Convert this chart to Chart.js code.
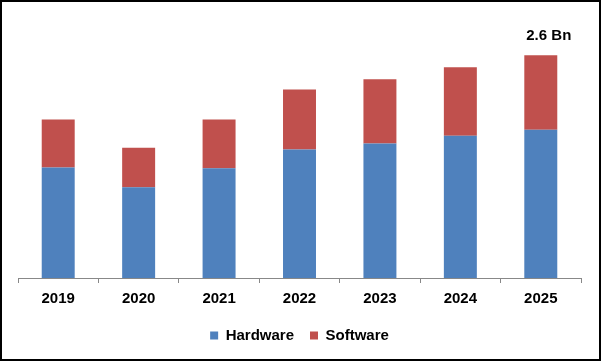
<!DOCTYPE html>
<html>
<head>
<meta charset="utf-8">
<script src="https://cdn.jsdelivr.net/npm/chart.js@4.4.1/dist/chart.umd.min.js"></script>
<style>
  html, body { margin: 0; padding: 0; background: #fff; }
  #wrap { position: relative; width: 601px; height: 361px; }
  #frame {
    position: absolute; left: 0; top: 0; width: 601px; height: 361px;
    box-sizing: border-box; border: 2px solid #000; pointer-events: none;
  }
</style>
</head>
<body>
<div id="wrap">
  <canvas id="marketChart" width="601" height="361"></canvas>
  <div id="frame"></div>
</div>
<script>
// =============================
// DATA (USD Bn)
// =============================
const years = ["2019", "2020", "2021", "2022", "2023", "2024", "2025"];
const hardware = [1.29, 1.06, 1.28, 1.50, 1.57, 1.66, 1.73];
const software = [0.56, 0.46, 0.57, 0.70, 0.75, 0.80, 0.87];
const lastLabel = "2.6 Bn";

const FONT = "'Liberation Sans', Arial, sans-serif";

// label above the last bar
const topLabel = {
  id: "topLabel",
  afterDatasetsDraw(chart) {
    let meta = chart.getDatasetMeta(1);
    let bar = meta.data[meta.data.length - 1];
    if (!bar) return;
    let ctx = chart.ctx;
    ctx.save();
    ctx.font = "bold 15px " + FONT;
    ctx.fillStyle = "#000";
    ctx.textAlign = "center";
    ctx.textBaseline = "middle";
    ctx.fillText(lastLabel, bar.x + 8, bar.y - 19);
    ctx.restore();
  }
};

let ctx = document.getElementById("marketChart");

new Chart(ctx, {
  type: "bar",
  data: {
    labels: years,
    datasets: [
      {
        label: "Hardware",
        data: hardware,
        backgroundColor: "#4F81BD",
        barPercentage: 0.41,
        categoryPercentage: 1
      },
      {
        label: "Software",
        data: software,
        backgroundColor: "#C0504D",
        barPercentage: 0.41,
        categoryPercentage: 1
      }
    ]
  },
  options: {
    responsive: false,
    animation: false,
    layout: {
      padding: { left: 18, right: 20, top: 21, bottom: 8 }
    },
    plugins: {
      legend: {
        position: "bottom",
        labels: {
          boxWidth: 8,
          boxHeight: 8,
          padding: 16,
          color: "#000",
          font: { family: FONT, size: 15, weight: "bold" }
        }
      },
      tooltip: { enabled: false }
    },
    scales: {
      x: {
        stacked: true,
        afterFit: function (scale) {
          // pull the axis line down without moving the legend
          scale.height -= 3;
        },
        grid: {
          offset: true,
          drawOnChartArea: false,
          drawTicks: true,
          tickLength: 5,
          color: "#888"
        },
        border: { display: true, color: "#888", width: 1 },
        ticks: {
          color: "#000",
          padding: 7,
          font: { family: FONT, size: 15, weight: "bold" }
        }
      },
      y: {
        stacked: true,
        display: false,
        min: 0,
        max: 3.0
      }
    }
  },
  plugins: [topLabel]
});
</script>
</body>
</html>
